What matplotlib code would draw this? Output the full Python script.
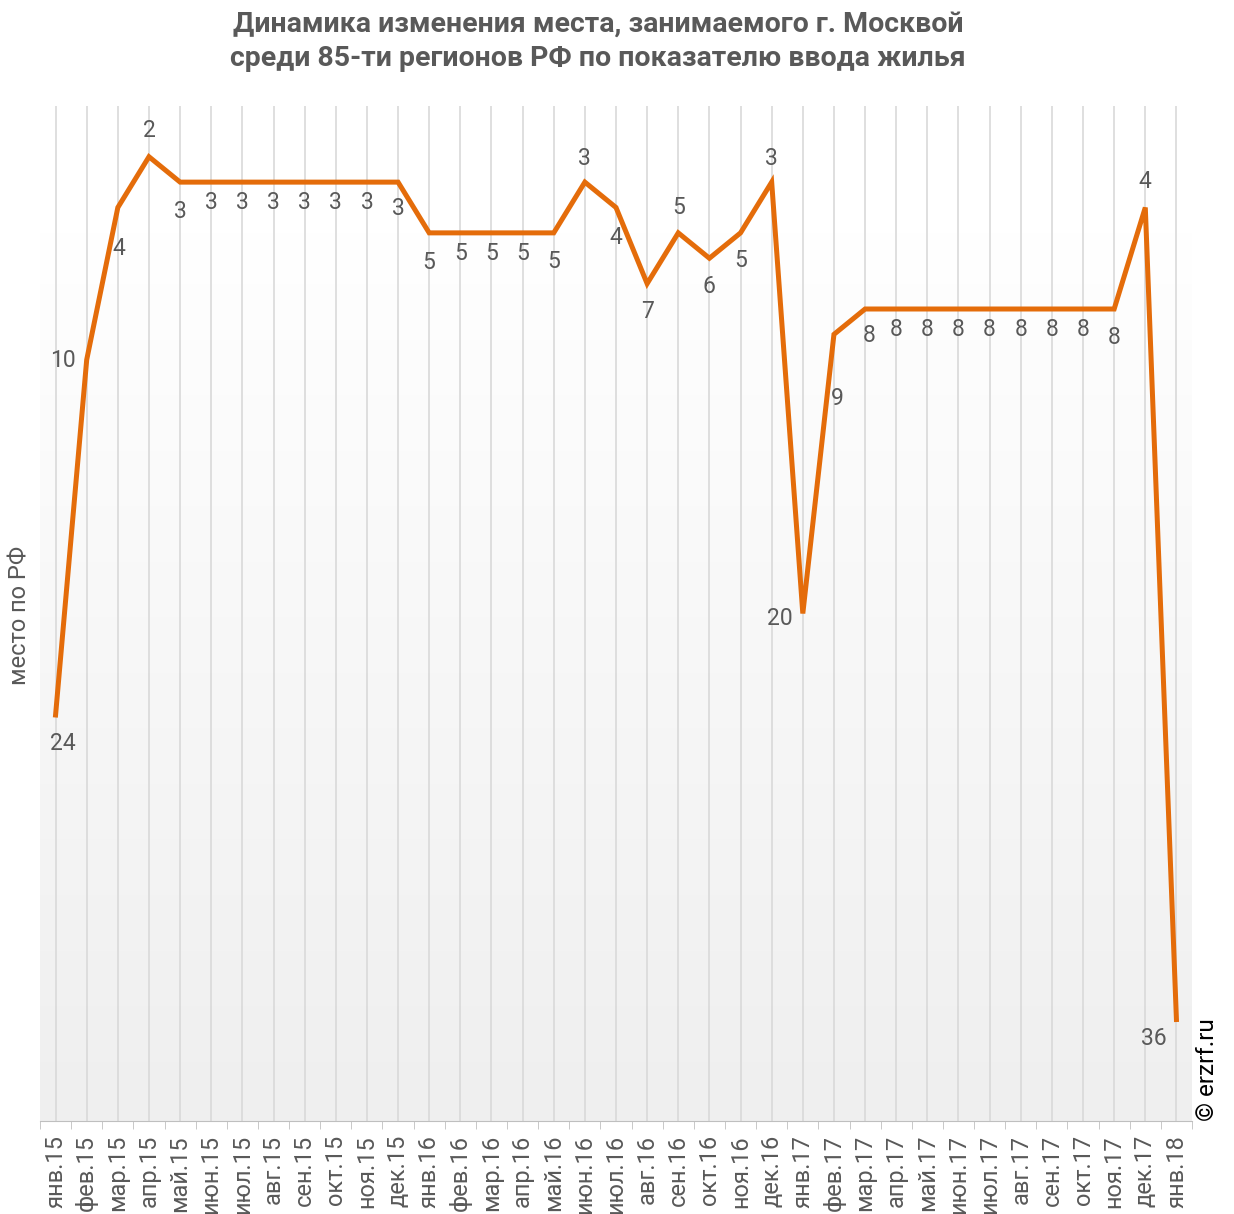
import numpy as np
import matplotlib
matplotlib.use("Agg")
import matplotlib.pyplot as plt

plt.rcParams['font.family'] = ['Roboto', 'DejaVu Sans']

# месяцы и место Москвы среди регионов
months = ["янв.15", "фев.15", "мар.15", "апр.15", "май.15", "июн.15", "июл.15",
          "авг.15", "сен.15", "окт.15", "ноя.15", "дек.15",
          "янв.16", "фев.16", "мар.16", "апр.16", "май.16", "июн.16", "июл.16",
          "авг.16", "сен.16", "окт.16", "ноя.16", "дек.16",
          "янв.17", "фев.17", "мар.17", "апр.17", "май.17", "июн.17", "июл.17",
          "авг.17", "сен.17", "окт.17", "ноя.17", "дек.17", "янв.18"]
place = [24, 10, 4, 2, 3, 3, 3, 3, 3, 3, 3, 3,
         5, 5, 5, 5, 5, 3, 4, 7, 5, 6, 5, 3,
         20, 9, 8, 8, 8, 8, 8, 8, 8, 8, 8, 4, 36]

# label offsets in pixels (dx, dy downwards)
lbl_off = [(7, 28), (-24, 1), (1, 41), (0, -26), (0, 29), (0, 20), (0, 20),
           (0, 20), (0, 20), (0, 20), (0, 20), (0, 26),
           (0, 30), (0, 21), (0, 21), (0, 21), (0, 29), (0, -24), (0, 30),
           (0, 28), (0, -25), (0, 28), (0, 28), (0, -24),
           (-23, 5), (3, 64), (4, 26), (0, 21), (0, 21), (0, 21), (0, 21),
           (0, 21), (0, 21), (0, 21), (0, 29), (0, -26), (-23, 19)]

txt = '#595959'
fig = plt.figure(figsize=(12.34, 12.14), dpi=100)
ax = fig.add_axes([40/1234, 1-1121/1214, 1152/1234, (1121-106)/1214])

x = np.arange(len(months))
ax.set_xlim(-0.5, len(months)-0.5)
ax.set_ylim(40, 0)

# gradient background
grad = np.linspace(0, 1, 256).reshape(-1, 1)
grad = np.clip((grad - 0.12) / 0.88, 0, 1)
cmap = matplotlib.colors.LinearSegmentedColormap.from_list('g', ['#ffffff', '#efefef'])
ax.imshow(grad, extent=[-0.5, len(months)-0.5, 40, 0], aspect='auto',
          cmap=cmap, zorder=0, origin='upper')

for xi in x:
    ax.axvline(xi, color='#d9d9d9', lw=1.2, zorder=1)

ax.plot(x, place, color='#E46C0A', lw=3.6, zorder=3, solid_joinstyle='miter')

for xi, v, (dx, dy) in zip(x, place, lbl_off):
    ax.annotate(str(v), (xi, v), xytext=(dx*0.72, -dy*0.72), textcoords='offset points',
                ha='center', va='center', fontsize=16.5, color=txt, zorder=4)

for s in ['top', 'right', 'left']:
    ax.spines[s].set_visible(False)
ax.spines['bottom'].set_color('#bfbfbf')
ax.set_yticks([])
ax.set_xticks(x)
ax.set_xticklabels(months, rotation=90, fontsize=17, color=txt)
ax.tick_params(axis='x', which='major', length=0, pad=10)
ax.set_xticks(np.arange(-0.5, len(months)), minor=True)
ax.tick_params(axis='x', which='minor', length=6, color='#bfbfbf')

fig.text(20/1234, 1-615/1214, "место по РФ", rotation=90, ha='center', va='center',
         fontsize=17, color=txt)
fig.text(598/1234, 1-41/1214,
         "Динамика изменения места, занимаемого г. Москвой\nсреди 85-ти регионов РФ по показателю ввода жилья",
         ha='center', va='center', fontsize=20.5, fontweight='bold', color=txt,
         linespacing=1.35)
fig.text(1208/1234, 1-1070/1214, "© erzrf.ru", rotation=90, ha='center', va='center',
         fontsize=17.5, color='black')

fig.savefig("out.png", dpi=100)
